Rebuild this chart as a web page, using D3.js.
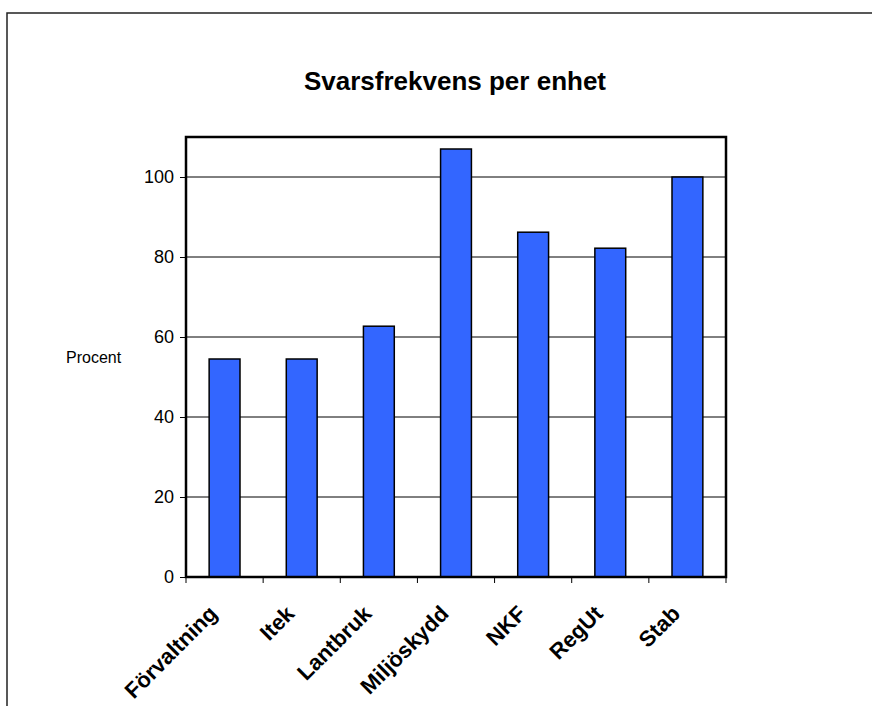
<!DOCTYPE html>
<html>
<head>
<meta charset="utf-8">
<script src="https://cdn.jsdelivr.net/npm/d3@7"></script>
<style>
  body { margin: 0; background: #fff; }
  text { font-family: "Liberation Sans", Arial, sans-serif; fill: #000; }
</style>
</head>
<body>
<svg width="872" height="706"></svg>
<script>
var categories = ["Förvaltning", "Itek", "Lantbruk", "Miljöskydd", "NKF", "RegUt", "Stab"];
var values = [54.5, 54.5, 62.7, 107, 86.2, 82.2, 100];
var yTicks = [0, 20, 40, 60, 80, 100];

var svg = d3.select("svg"),
  margin = {top: 137, left: 186, right: 146, bottom: 129},
  width = 872 - margin.left - margin.right,
  height = 706 - margin.top - margin.bottom,
  g = svg.append("g").attr("transform", "translate(" + margin.left + "," + margin.top + ")");

// outer chart frame (runs off the page right/bottom)
svg.append("rect")
  .attr("x", 7).attr("y", 13)
  .attr("width", 1000).attr("height", 1000)
  .attr("fill", "none").attr("stroke", "#222").attr("stroke-width", 1.5);

svg.append("text")
  .attr("x", 455).attr("y", 90)
  .attr("text-anchor", "middle")
  .style("font-size", "26px").style("font-weight", "bold")
  .text("Svarsfrekvens per enhet");

var x = d3.scaleBand().domain(categories).range([0, width]).padding(0),
  y = d3.scaleLinear().domain([0, 110]).range([height, 0]);

// gridlines
g.selectAll(".grid")
  .data(yTicks.slice(1))
  .enter().append("line")
  .attr("class", "grid")
  .attr("x1", 0).attr("x2", width)
  .attr("y1", d => y(d)).attr("y2", d => y(d))
  .attr("stroke", "#000").attr("stroke-width", 1);

// bars
g.selectAll(".bar")
  .data(values)
  .enter().append("rect")
  .attr("class", "bar")
  .attr("x", (d, i) => x(categories[i]) + x.bandwidth() * 0.3)
  .attr("width", x.bandwidth() * 0.4)
  .attr("y", d => y(d))
  .attr("height", d => height - y(d))
  .attr("fill", "#3366ff")
  .attr("stroke", "#000").attr("stroke-width", 1.5);

// plot frame
g.append("rect")
  .attr("width", width).attr("height", height)
  .attr("fill", "none").attr("stroke", "#000").attr("stroke-width", 2.5);

// y axis
var yAxis = g.append("g")
  .call(d3.axisLeft(y).tickValues(yTicks).tickSize(6).tickPadding(6));
yAxis.select(".domain").remove();
yAxis.selectAll("text").style("font-size", "18px").attr("font-family", null);

// x axis ticks at band edges
var edges = d3.range(categories.length + 1).map(i => i * x.step());
g.selectAll(".xtick")
  .data(edges)
  .enter().append("line")
  .attr("x1", d => d).attr("x2", d => d)
  .attr("y1", height).attr("y2", height + 6)
  .attr("stroke", "#000").attr("stroke-width", 1);

g.selectAll(".xlabel")
  .data(categories)
  .enter().append("text")
  .attr("class", "xlabel")
  .attr("transform", d => "translate(" + (x(d) + x.bandwidth() / 2 - 6) + "," + (height + 38) + ") rotate(-45)")
  .attr("text-anchor", "end")
  .style("font-size", "22px").style("font-weight", "bold")
  .text(d => d);

svg.append("text")
  .attr("x", 66).attr("y", 363)
  .style("font-size", "16px")
  .text("Procent");
</script>
</body>
</html>
